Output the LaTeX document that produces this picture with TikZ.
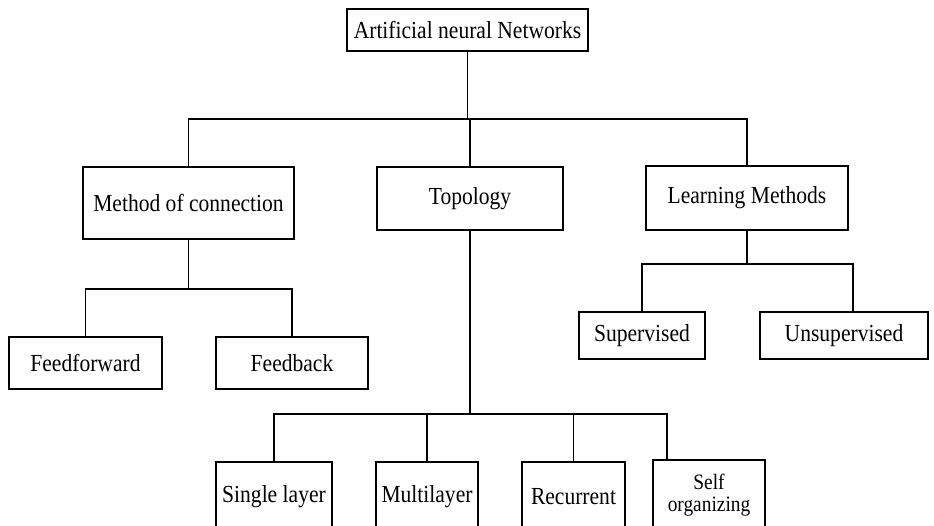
\documentclass[tikz,border=0pt]{standalone}
\usepackage{fontspec}
\setmainfont{Liberation Serif}
\newfontfamily\boxfont[FakeStretch=0.88]{Liberation Serif}
\usepackage{tikz}
\usetikzlibrary{positioning,calc}

\begin{document}
\begin{tikzpicture}[
  x=1pt, y=-1pt,
  box/.style={draw, line width=1.9pt, inner sep=2pt, align=center, font=\boxfont\fontsize{24.5}{26}\selectfont},
  leaf/.style={box, minimum height=70pt},
  link/.style={line width=1.2pt}
]
\useasboundingbox (0,0) rectangle (934,526);
\clip (0,0) rectangle (934,526);

\node [box, minimum width=241pt, minimum height=42pt] (ann) at (467.5,30) {Artificial neural Networks};

\node [box, minimum width=211pt, minimum height=72pt] (moc) at (188.5,203) {Method of connection};
\node [box, minimum width=186pt, minimum height=63pt] (topo) at (470,198.5) {Topology};
\node [box, minimum width=202pt, minimum height=64pt] (learn) at (747,198) {Learning Methods};

\node [box, minimum width=153pt, minimum height=52pt] (ffwd) at (85.5,363) {Feedforward};
\node [box, minimum width=152pt, minimum height=52pt] (fback) at (292,363) {Feedback};

\node [box, minimum width=126pt, minimum height=47pt] (sup) at (642,335.5) {Supervised};
\node [box, minimum width=168pt, minimum height=47pt] (unsup) at (844,335.5) {Unsupervised};

\node [leaf, minimum width=116pt] (single) at (274,497) {Single layer};
\node [leaf, minimum width=102pt] (multi) at (427,497) {Multilayer};
\node [leaf, minimum width=103pt] (recur) at (573.5,497) {Recurrent};
\node [leaf, minimum width=112pt, font=\boxfont\fontsize{22}{22}\selectfont] (selforg) at (709,495) {Self\\organizing};

\draw [link] (ann.south) -- ++(0,67) coordinate (bus1);
\draw [link] (moc.north) |- (bus1) -| (learn.north);
\draw [link] (topo.north) -- (topo.north |- bus1);

\draw [link] (moc.south) -- ++(0,49) coordinate (bus2);
\draw [link] (ffwd.north) |- (bus2) -| (fback.north);

\draw [link] (learn.south) -- ++(0,33) coordinate (bus3);
\draw [link] (sup.north) |- (bus3) -| ([xshift=9pt]unsup.north);

\draw [link] (topo.south) -- ++(0,183) coordinate (bus4);
\draw [link] (single.north) |- (bus4) -| ([xshift=-42pt]selforg.north);
\draw [link] (multi.north) -- (multi.north |- bus4);
\draw [link] (recur.north) -- (recur.north |- bus4);
\end{tikzpicture}
\end{document}
